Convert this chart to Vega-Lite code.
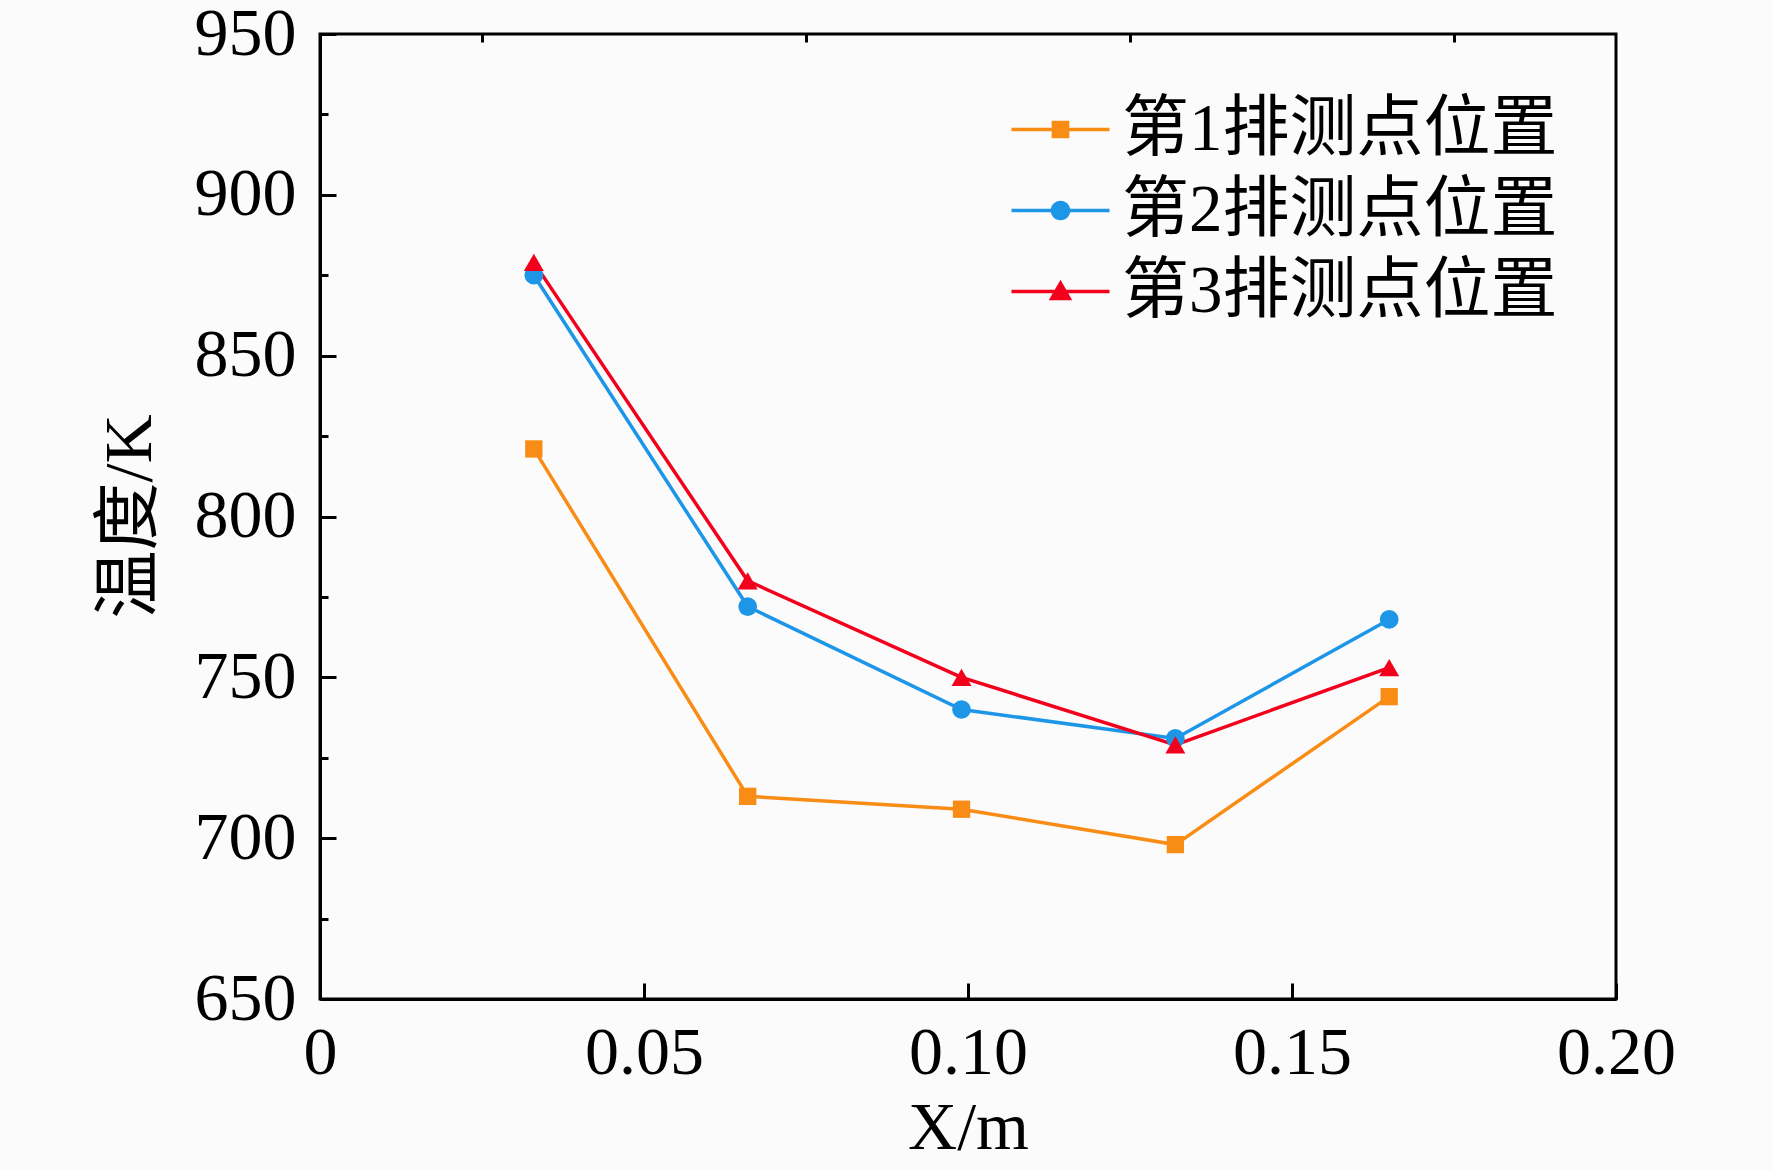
{
  "$schema": "https://vega.github.io/schema/vega-lite/v6.json",
  "width": 1296,
  "height": 965,
  "autosize": {"type": "none"},
  "padding": {"left": 320, "top": 34, "right": 156, "bottom": 171},
  "background": "#fbfbfb",
  "data": {
    "values": [
      {"x": 0.033, "T": 821, "s": "第1排测点位置"},
      {"x": 0.066, "T": 713, "s": "第1排测点位置"},
      {"x": 0.099, "T": 709, "s": "第1排测点位置"},
      {"x": 0.132, "T": 698, "s": "第1排测点位置"},
      {"x": 0.165, "T": 744, "s": "第1排测点位置"},
      {"x": 0.033, "T": 875, "s": "第2排测点位置"},
      {"x": 0.066, "T": 772, "s": "第2排测点位置"},
      {"x": 0.099, "T": 740, "s": "第2排测点位置"},
      {"x": 0.132, "T": 731, "s": "第2排测点位置"},
      {"x": 0.165, "T": 768, "s": "第2排测点位置"},
      {"x": 0.033, "T": 879, "s": "第3排测点位置"},
      {"x": 0.066, "T": 780, "s": "第3排测点位置"},
      {"x": 0.099, "T": 750, "s": "第3排测点位置"},
      {"x": 0.132, "T": 729, "s": "第3排测点位置"},
      {"x": 0.165, "T": 753, "s": "第3排测点位置"}
    ]
  },
  "layer": [
    {
      "mark": {"type": "line", "strokeWidth": 3.5},
      "encoding": {
        "x": {
          "field": "x", "type": "quantitative",
          "scale": {"domain": [0, 0.2], "nice": false, "zero": false},
          "axis": {
            "values": [0, 0.05, 0.1, 0.15, 0.2],
            "labelExpr": "datum.value == 0 ? '0' : format(datum.value, '.2f')",
            "title": "X/m",
            "titleY": 129,
            "titleBaseline": "middle",
            "tickSize": -16,
            "labelPadding": 36
          }
        },
        "y": {
          "field": "T", "type": "quantitative",
          "scale": {"domain": [650, 950], "nice": false, "zero": false},
          "axis": {
            "values": [650, 700, 750, 800, 850, 900, 950],
            "title": "温度/K",
            "titleX": -190,
            "titleY": 482,
            "titleBaseline": "middle",
            "titleAngle": -90,
            "tickSize": -16,
            "labelPadding": 40
          }
        },
        "color": {
          "field": "s", "type": "nominal",
          "scale": {
            "domain": ["第1排测点位置", "第2排测点位置", "第3排测点位置"],
            "range": ["#f98c14", "#1e96e8", "#f2001c"]
          },
          "legend": null
        }
      }
    },
    {
      "mark": {"type": "point", "filled": true, "opacity": 1},
      "encoding": {
        "x": {"field": "x", "type": "quantitative", "axis": null},
        "y": {"field": "T", "type": "quantitative", "axis": null},
        "color": {
          "field": "s", "type": "nominal",
          "scale": {
            "domain": ["第1排测点位置", "第2排测点位置", "第3排测点位置"],
            "range": ["#f98c14", "#1e96e8", "#f2001c"]
          },
          "legend": null
        },
        "shape": {
          "field": "s", "type": "nominal",
          "scale": {
            "domain": ["第1排测点位置", "第2排测点位置", "第3排测点位置"],
            "range": ["square", "circle", "triangle-up"]
          },
          "legend": null
        },
        "size": {
          "field": "s", "type": "ordinal",
          "scale": {
            "domain": ["第1排测点位置", "第2排测点位置", "第3排测点位置"],
            "range": [300, 400, 520]
          },
          "legend": null
        }
      }
    },
    {
      "mark": {"type": "point", "filled": true, "opacity": 0, "size": 1537},
      "encoding": {
        "x": {
          "field": "x", "type": "quantitative",
          "axis": {
            "values": [0.025, 0.075, 0.125, 0.175],
            "labels": false, "domain": false, "title": null,
            "tickSize": -8
          }
        },
        "y": {
          "field": "T", "type": "quantitative",
          "axis": {
            "orient": "left",
            "values": [675, 725, 775, 825, 875, 925],
            "labels": false, "domain": false, "title": null,
            "tickSize": -8
          }
        },
        "color": {
          "field": "s", "type": "nominal",
          "scale": {
            "domain": ["第1排测点位置", "第2排测点位置", "第3排测点位置"],
            "range": ["#f98c14", "#1e96e8", "#f2001c"]
          },
          "legend": {
            "orient": "none", "legendX": 707, "legendY": 62,
            "title": null, "padding": 0,
            "symbolSize": 1537, "symbolOpacity": 1, "symbolStrokeWidth": 0,
            "labelOffset": 28, "rowPadding": 13,
            "labelFont": "Liberation Serif, Noto Sans CJK SC",
            "labelFontSize": 67, "labelColor": "black", "labelLimit": 800
          }
        },
        "shape": {
          "field": "s", "type": "nominal",
          "scale": {
            "domain": ["第1排测点位置", "第2排测点位置", "第3排测点位置"],
            "range": [
              "M-2.5,-0.09H2.5V0.09H-2.5Z M-0.45,-0.45H0.45V0.45H-0.45Z",
              "M-2.5,-0.09H2.5V0.09H-2.5Z M-0.5,0A0.5,0.5 0 1,1 0.5,0A0.5,0.5 0 1,1 -0.5,0Z",
              "M-2.5,-0.09H2.5V0.09H-2.5Z M0,-0.6L0.6,0.45H-0.6Z"
            ]
          },
          "legend": {
            "orient": "none", "legendX": 707, "legendY": 62,
            "title": null, "padding": 0,
            "symbolSize": 1537, "symbolOpacity": 1, "symbolStrokeWidth": 0,
            "labelOffset": 28, "rowPadding": 13,
            "labelFont": "Liberation Serif, Noto Sans CJK SC",
            "labelFontSize": 67, "labelColor": "black", "labelLimit": 800
          }
        }
      }
    }
  ],
  "resolve": {
    "scale": {"shape": "independent", "color": "independent"},
    "axis": {"x": "independent", "y": "independent"}
  },
  "config": {
    "view": {"stroke": "black", "strokeWidth": 3},
    "axis": {
      "domainColor": "black", "domainWidth": 3,
      "tickColor": "black", "tickWidth": 3,
      "grid": false,
      "labelFont": "Liberation Serif", "labelFontSize": 68, "labelColor": "black",
      "titleFont": "Liberation Serif, Noto Sans CJK SC", "titleFontSize": 68,
      "titleFontWeight": "normal", "titleColor": "black",
      "labelFlush": false, "labelOverlap": false
    }
  }
}
